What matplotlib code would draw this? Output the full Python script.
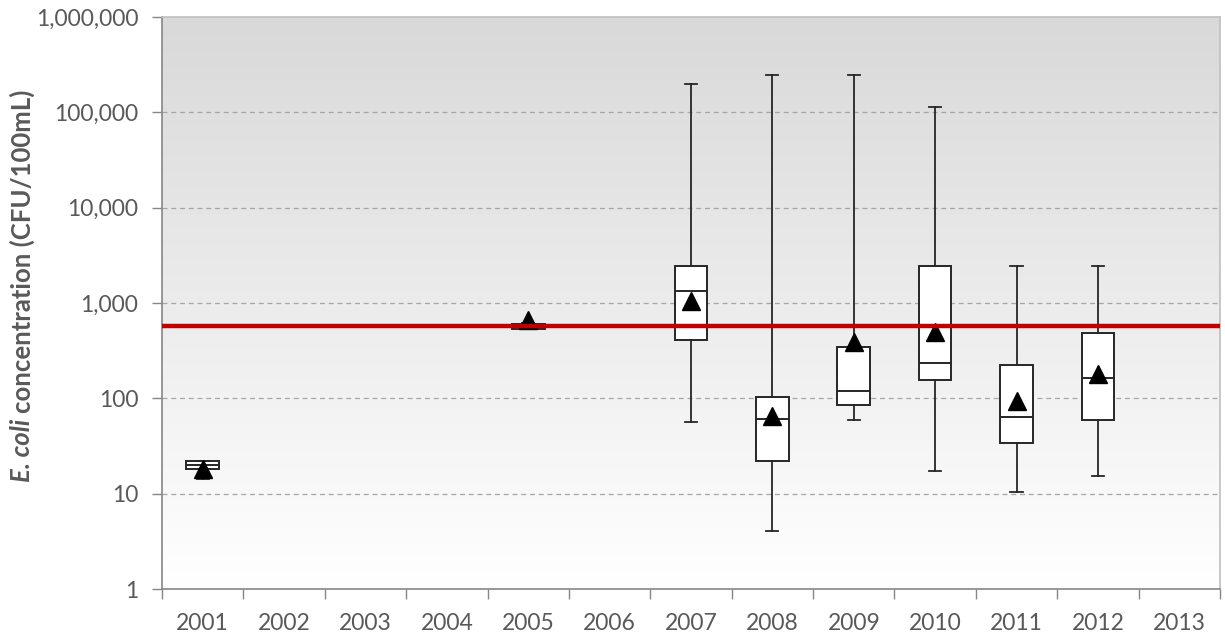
import numpy as np
import matplotlib.pyplot as plt
from matplotlib.ticker import FixedLocator, FuncFormatter, NullFormatter

# categories on the x axis
years = ['2001', '2002', '2003', '2004', '2005', '2006', '2007',
         '2008', '2009', '2010', '2011', '2012', '2013']

# box statistics (CFU/100mL), only years that have samples
box_years = ['2001', '2005', '2007', '2008', '2009', '2010', '2011', '2012']
mins = [14.3, 530, 57, 4.1, 59, 17.2, 10.4, 15.4]
q1s = [18.2, 535, 412, 22, 85, 155, 34, 59]
medians = [20, 560, 1346, 61, 119, 237, 63, 163]
q3s = [21.9, 600, 2420, 104, 348, 2420, 222, 481]
maxs = [21.9, 620, 198000, 246000, 246000, 114000, 2420, 2420]
means = [18, 660, 1058, 65, 393, 500, 94.5, 180]

# criterion line
criterion = 576

plt.rcParams['font.family'] = ['Lato', 'DejaVu Sans']

fig = plt.figure(figsize=(12.25, 6.39), dpi=100)
ax = fig.add_axes([162 / 1225, 50 / 639, 1058 / 1225, 572 / 639])

# grey (top) to white (bottom) background gradient
grad = np.linspace(0, 1, 256).reshape(-1, 1)
shade = 1.0 - 0.15 * grad
bg = np.dstack([shade, shade, shade])
ax.imshow(bg, extent=[0, 1, 0, 1], transform=ax.transAxes, aspect='auto',
          origin='lower', zorder=0, interpolation='bilinear')

stats = []
for i, y in enumerate(box_years):
    stats.append({'whislo': mins[i], 'q1': q1s[i], 'med': medians[i],
                  'q3': q3s[i], 'whishi': maxs[i], 'mean': means[i],
                  'fliers': [], 'label': y})
positions = [years.index(y) + 1 for y in box_years]

ax.bxp(stats, positions=positions, widths=0.4, showmeans=True,
       patch_artist=True, manage_ticks=False,
       boxprops=dict(facecolor='white', edgecolor='#262626', linewidth=1.4),
       medianprops=dict(color='#262626', linewidth=1.4),
       whiskerprops=dict(color='#262626', linewidth=1.3),
       capprops=dict(color='#262626', linewidth=1.3),
       capwidths=0.15,
       meanprops=dict(marker='^', markerfacecolor='black',
                      markeredgecolor='black', markersize=13),
       zorder=3)

ax.axhline(criterion, color='#c00000', linewidth=3.2, zorder=5)

ax.set_yscale('log')
ax.set_ylim(1, 1e6)
ax.set_xlim(0.5, len(years) + 0.5)

ax.yaxis.set_major_locator(FixedLocator([1, 10, 100, 1e3, 1e4, 1e5, 1e6]))
ax.yaxis.set_minor_locator(FixedLocator([]))
ax.yaxis.set_major_formatter(FuncFormatter(lambda v, p: f'{int(round(v)):,}'))
for v in [10, 100, 1e3, 1e4, 1e5]:
    ax.axhline(v, color='#a6a6a6', linewidth=0.9, linestyle=(0, (4, 3)), zorder=1)

ax.set_xticks(range(1, len(years) + 1))
ax.set_xticklabels(years)
ax.set_xticks(np.arange(0.5, len(years) + 1, 1), minor=True)
ax.xaxis.set_minor_formatter(NullFormatter())
ax.tick_params(axis='x', which='major', length=0, pad=17, labelsize=16.5,
               labelcolor='#595959')
ax.tick_params(axis='x', which='minor', length=7, color='#868686', width=1)
ax.tick_params(axis='y', which='major', length=7, color='#868686', width=1,
               labelsize=16.5, labelcolor='#595959', pad=10)

for s in ['left', 'bottom']:
    ax.spines[s].set_color('#868686')
    ax.spines[s].set_linewidth(1.2)
for s in ['top', 'right']:
    ax.spines[s].set_color('#bfbfbf')
    ax.spines[s].set_linewidth(1.2)

# y label: italic "E. coli" followed by upright text
fig.canvas.draw()
renderer = fig.canvas.get_renderer()
t1 = fig.text(22 / 1225, (639 - 482) / 639, 'E. coli', rotation=90, fontsize=18.5,
              fontweight='bold', fontstyle='italic', color='#595959',
              ha='center', va='bottom')
bb = t1.get_window_extent(renderer)
fig.text(22 / 1225, (bb.y1 + 6) / fig.bbox.height,
         'concentration (CFU/100mL)', rotation=90, fontsize=18.5,
         fontweight='bold', color='#595959', ha='center', va='bottom')

fig.savefig('out.png', dpi=100)
